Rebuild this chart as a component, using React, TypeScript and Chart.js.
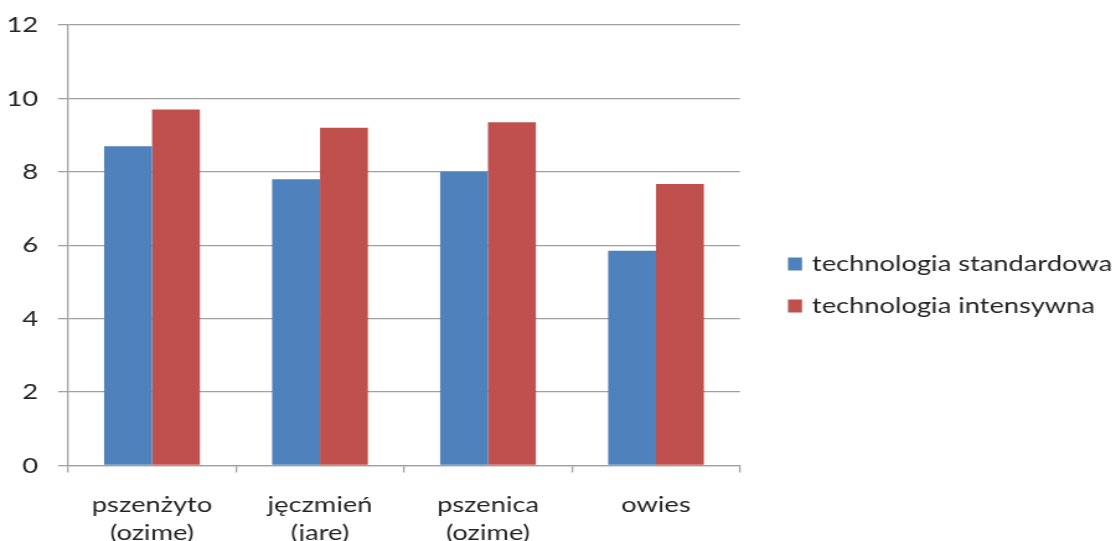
import React, { useEffect, useRef } from 'react';
import { Chart, registerables } from 'chart.js';

Chart.register(...registerables);

// ---- data ----
const categories: string[][] = [
  ['pszenżyto', '(ozime)'],
  ['jęczmień', '(jare)'],
  ['pszenica', '(ozime)'],
  ['owies'],
];
const seriesNames = ['technologia standardowa', 'technologia intensywna'];
const standardValues = [8.7, 7.8, 8.0, 5.85];
const intensiveValues = [9.7, 9.2, 9.35, 7.67];
const yTickValues = [0, 2, 4, 6, 8, 10, 12];
const seriesColors = ['#4F81BD', '#C0504D'];

// ---- layout ----
const K = 1.24; // horizontal stretch of the reference picture
const W = 1120 / K;
const H = 541;
const FONT = 'Lato';
const FSIZE = 22;
const TEXT = '#262626';
const GRID = '#a0a0a0';

const sideLegend = {
  id: 'sideLegend',
  afterDraw(chart: any) {
    const ctx = chart.ctx;
    const boxX = 788 / K;
    const textX = 812 / K;
    const rows = [264, 306];
    ctx.save();
    ctx.font = `${FSIZE}px ${FONT}`;
    ctx.textBaseline = 'middle';
    ctx.textAlign = 'left';
    chart.data.datasets.forEach((ds: any, i: number) => {
      ctx.fillStyle = ds.backgroundColor;
      ctx.fillRect(boxX, rows[i] - 6.5, 14 / K, 13);
      ctx.fillStyle = TEXT;
      ctx.fillText(ds.label, textX, rows[i]);
    });
    ctx.restore();
  },
};

export default function App() {
  const ref = useRef<HTMLCanvasElement | null>(null);

  useEffect(() => {
    document.body.style.margin = '0';
    document.body.style.overflow = 'hidden';
    if (!ref.current) return;
    const chart = new Chart(ref.current, {
      type: 'bar',
      data: {
        labels: categories as any,
        datasets: [
          {
            label: seriesNames[0],
            data: standardValues,
            backgroundColor: seriesColors[0],
            categoryPercentage: 0.57,
            barPercentage: 1,
          },
          {
            label: seriesNames[1],
            data: intensiveValues,
            backgroundColor: seriesColors[1],
            categoryPercentage: 0.57,
            barPercentage: 1,
          },
        ],
      },
      options: {
        animation: false,
        responsive: true,
        maintainAspectRatio: false,
        layout: {
          padding: { top: 25, left: 0, bottom: 0, right: W - 740 / K },
        },
        plugins: {
          legend: { display: false },
          tooltip: { enabled: false },
        },
        scales: {
          x: {
            grid: {
              display: true,
              drawOnChartArea: false,
              drawTicks: true,
              tickLength: 7,
              color: GRID,
              lineWidth: 1.3,
            },
            border: { display: true, color: GRID, width: 1.3 },
            ticks: {
              color: TEXT,
              font: { family: FONT, size: FSIZE, lineHeight: 1.25 },
              padding: 19,
              maxRotation: 0,
              autoSkip: false,
            },
            afterFit(scale: any) {
              scale.height = H - 465.5;
            },
          },
          y: {
            min: 0,
            max: 12,
            afterBuildTicks(scale: any) {
              scale.ticks = yTickValues.map((v) => ({ value: v }));
            },
            grid: {
              color: GRID,
              lineWidth: 1.3,
              drawTicks: true,
              tickLength: 10 / K,
            },
            border: { display: true, color: GRID, width: 1.3 },
            ticks: {
              color: TEXT,
              font: { family: FONT, size: FSIZE },
              padding: 20 / K,
            },
            afterFit(scale: any) {
              scale.width = 68 / K;
              scale.paddingTop = 0;
              scale.paddingBottom = 0;
            },
          },
        },
      },
      plugins: [sideLegend],
    });
    return () => chart.destroy();
  }, []);

  return (
    <div
      style={{
        width: W,
        height: H,
        transform: `scaleX(${K})`,
        transformOrigin: '0 0',
        position: 'relative',
      }}
    >
      <canvas ref={ref} />
    </div>
  );
}
